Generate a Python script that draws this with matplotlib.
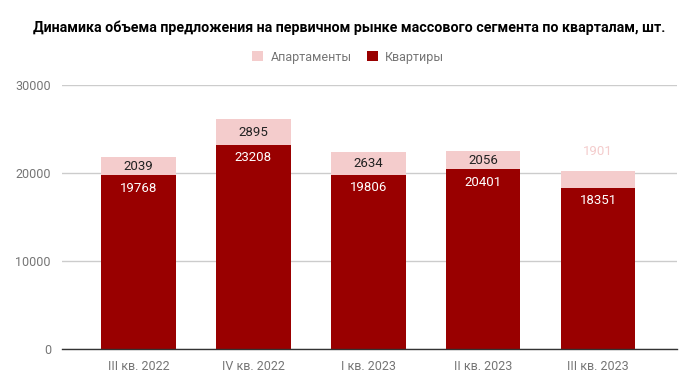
import matplotlib
matplotlib.use("Agg")
import matplotlib.pyplot as plt
from matplotlib.patches import Patch

plt.rcParams['font.family'] = ['Roboto', 'DejaVu Sans']

categories = ["III кв. 2022", "IV кв. 2022", "I кв. 2023", "II кв. 2023", "III кв. 2023"]
kvartiry = [19768, 23208, 19806, 20401, 18351]
apartamenty = [2039, 2895, 2634, 2056, 1901]
yticks = [0, 10000, 20000, 30000]

c_dark = "#990000"
c_light = "#f4cccc"
c_tick = "#757575"

fig = plt.figure(figsize=(6.96, 3.90), dpi=100)
ax = fig.add_axes([62/696, 1-349/390, (677-62)/696, (349-85)/390])

x = list(range(len(categories)))
w = 0.65
b1 = ax.bar(x, kvartiry, width=w, color=c_dark, zorder=2)
b2 = ax.bar(x, apartamenty, width=w, bottom=kvartiry, color=c_light, zorder=2)

for i in x:
    ax.annotate(str(kvartiry[i]), (i, kvartiry[i]), xytext=(0, -13), textcoords="offset pixels",
                ha="center", va="center", color="white", fontsize=9.5, zorder=3)
    top = kvartiry[i] + apartamenty[i]
    if i < len(x) - 1:
        ax.text(i, kvartiry[i] + apartamenty[i] / 2, str(apartamenty[i]), ha="center", va="center",
                color="#222222", fontsize=9.5, zorder=3)
    else:
        ax.annotate(str(apartamenty[i]), (i, top), xytext=(0, 19), textcoords="offset pixels",
                    ha="center", va="center", color=c_light, fontsize=9.5, zorder=3)

ax.set_xlim(-0.665, 4.687)
ax.set_ylim(0, 30000)
ax.set_yticks(yticks)
ax.set_yticklabels([str(t) for t in yticks])
ax.set_xticks(x)
ax.set_xticklabels(categories)
ax.tick_params(axis="both", length=0, colors=c_tick, labelsize=9)
ax.tick_params(axis="y", pad=8)
ax.tick_params(axis="x", pad=8)
ax.grid(axis="y", color="#cccccc", linewidth=1, zorder=0)
for s in ["top", "right", "left"]:
    ax.spines[s].set_visible(False)
ax.spines["bottom"].set_color("#333333")
ax.spines["bottom"].set_linewidth(1)
ax.spines["bottom"].set_zorder(4)

fig.text(349/696, 1-28/390, "Динамика объема предложения на первичном рынке массового сегмента по кварталам, шт.",
         ha="center", va="center", fontsize=10.25, fontweight="bold", color="#000000")

handles = [Patch(facecolor=c_light, edgecolor="none"), Patch(facecolor=c_dark, edgecolor="none")]
fig.legend(handles, ["Апартаменты", "Квартиры"], loc="center", bbox_to_anchor=(348/696, 1-57/390),
           ncol=2, frameon=False, fontsize=9, labelcolor=c_tick, handlelength=0.9, handleheight=0.9,
           handletextpad=0.6, columnspacing=1.2)

fig.savefig("out.png", dpi=100)
